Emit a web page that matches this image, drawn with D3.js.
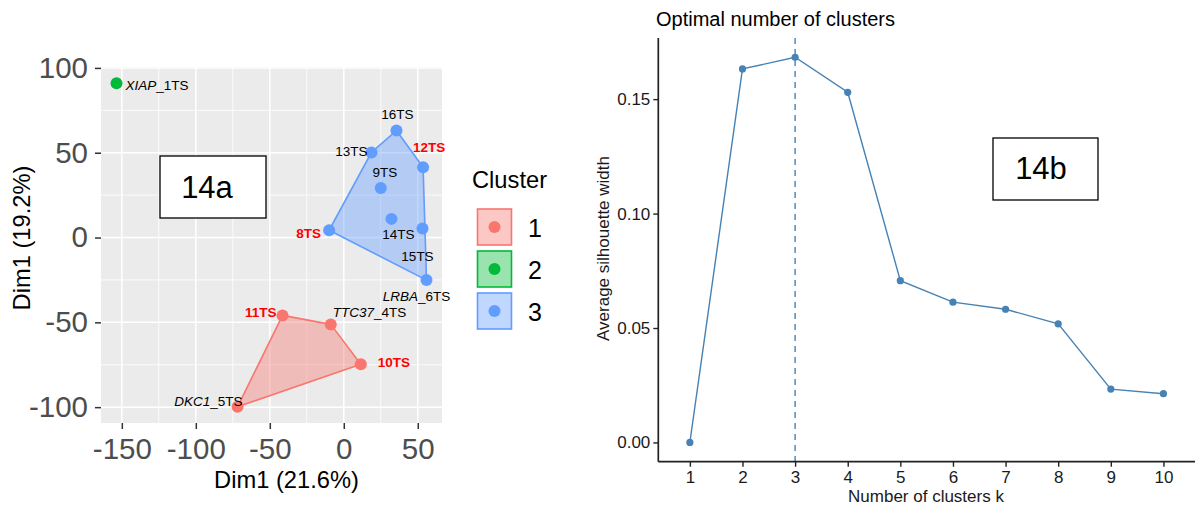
<!DOCTYPE html>
<html>
<head>
<meta charset="utf-8">
<script src="https://cdn.jsdelivr.net/npm/d3@7"></script>
<style>
  html, body { margin: 0; padding: 0; background: #fff; }
  svg { display: block; font-family: "Liberation Sans", Arial, Helvetica, sans-serif; }
</style>
</head>
<body>
<svg id="chart" width="1195" height="506"></svg>
<script>
// ---------------- DATA ----------------
// Panel 14a: PCA cluster plot
const sampleNames = ["XIAP_1TS", "16TS", "13TS", "12TS", "9TS", "14TS", "15TS", "8TS", "LRBA_6TS", "11TS", "TTC37_4TS", "10TS", "DKC1_5TS"];
const dim1Values  = [-153.6, 35.6, 18.7, 53.6, 25.0, 32.2, 53.2, -9.9, 55.9, -41.4, -8.8, 11.5, -71.8];
const dim2Values  = [91.0, 63.1, 50.2, 41.4, 29.2, 11.0, 5.3, 4.3, -25.1, -45.9, -51.2, -74.7, -99.8];
const clusterIds  = [2, 3, 3, 3, 3, 3, 3, 3, 3, 1, 1, 1, 1];
const highlightedSamples = ["12TS", "8TS", "11TS", "10TS"];
const clusterLevels = [1, 2, 3];
const xTicksA = [-150, -100, -50, 0, 50];
const yTicksA = [-100, -50, 0, 50, 100];

// Panel 14b: silhouette
const kValues = [1, 2, 3, 4, 5, 6, 7, 8, 9, 10];
const silhouetteWidth = [0.0, 0.1632, 0.1683, 0.1530, 0.0707, 0.0613, 0.0582, 0.0518, 0.0233, 0.0213];
const optimalK = 3;
const yTicksB = [0.00, 0.05, 0.10, 0.15];

// ---------------- LAYOUT / STYLE ----------------
const clusterColors = { 1: "#F8766D", 2: "#00BA38", 3: "#619CFF" };
// label placement relative to the point (pixels)
const labelLayout = {
  "XIAP_1TS":  { anchor: "start",  dx: 9,   dy: 2 },
  "16TS":      { anchor: "middle", dx: 1,   dy: -16 },
  "13TS":      { anchor: "end",    dx: -4,  dy: -1 },
  "12TS":      { anchor: "middle", dx: 6,   dy: -20 },
  "9TS":       { anchor: "middle", dx: 4,   dy: -16 },
  "14TS":      { anchor: "middle", dx: 7,   dy: 16 },
  "15TS":      { anchor: "middle", dx: -5,  dy: 28 },
  "8TS":       { anchor: "end",    dx: -8,  dy: 3 },
  "LRBA_6TS":  { anchor: "middle", dx: -10, dy: 16 },
  "11TS":      { anchor: "end",    dx: -6,  dy: -3 },
  "TTC37_4TS": { anchor: "start",  dx: 2,   dy: -12 },
  "10TS":      { anchor: "start",  dx: 17,  dy: -2 },
  "DKC1_5TS":  { anchor: "end",    dx: 5,   dy: -6 }
};

const svg = d3.select("#chart");

function expand(ext, f) { const p = (ext[1] - ext[0]) * f; return [ext[0] - p, ext[1] + p]; }

// ================= PANEL A =================
const A = { left: 101, right: 442, top: 67, bottom: 423 };
const xA = d3.scaleLinear().domain(expand(d3.extent(dim1Values), 0.05)).range([A.left, A.right]);
const yA = d3.scaleLinear().domain(expand(d3.extent(dim2Values), 0.05)).range([A.bottom, A.top]);

const gA = svg.append("g");
gA.append("rect").attr("x", A.left).attr("y", A.top).attr("width", A.right - A.left).attr("height", A.bottom - A.top).attr("fill", "#EBEBEB");

// minor grid
const minorX = xTicksA.slice(0, -1).map((d, i) => (d + xTicksA[i + 1]) / 2);
const minorY = yTicksA.slice(0, -1).map((d, i) => (d + yTicksA[i + 1]) / 2);
gA.selectAll(".mnx").data(minorX.filter(v => v >= xA.domain()[0] && v <= xA.domain()[1])).join("line")
  .attr("x1", d => xA(d)).attr("x2", d => xA(d)).attr("y1", A.top).attr("y2", A.bottom)
  .attr("stroke", "#fff").attr("stroke-width", 0.8);
gA.selectAll(".mny").data(minorY.filter(v => v >= yA.domain()[0] && v <= yA.domain()[1])).join("line")
  .attr("y1", d => yA(d)).attr("y2", d => yA(d)).attr("x1", A.left).attr("x2", A.right)
  .attr("stroke", "#fff").attr("stroke-width", 0.8);
// major grid
gA.selectAll(".mjx").data(xTicksA).join("line")
  .attr("x1", d => xA(d)).attr("x2", d => xA(d)).attr("y1", A.top).attr("y2", A.bottom)
  .attr("stroke", "#fff").attr("stroke-width", 1.5);
gA.selectAll(".mjy").data(yTicksA).join("line")
  .attr("y1", d => yA(d)).attr("y2", d => yA(d)).attr("x1", A.left).attr("x2", A.right)
  .attr("stroke", "#fff").attr("stroke-width", 1.5);

// hulls
const pts = sampleNames.map((n, i) => ({ name: n, x: dim1Values[i], y: dim2Values[i], c: clusterIds[i] }));
clusterLevels.forEach(c => {
  const cp = pts.filter(p => p.c === c).map(p => [xA(p.x), yA(p.y)]);
  if (cp.length >= 3) {
    const hull = d3.polygonHull(cp);
    gA.append("path").attr("d", "M" + hull.join("L") + "Z")
      .attr("fill", clusterColors[c]).attr("fill-opacity", 0.4)
      .attr("stroke", clusterColors[c]).attr("stroke-width", 1.6).attr("stroke-linejoin", "round");
  }
});

// points
gA.selectAll(".pt").data(pts).join("circle")
  .attr("cx", d => xA(d.x)).attr("cy", d => yA(d.y)).attr("r", 6)
  .attr("fill", d => clusterColors[d.c]);

// labels
pts.forEach(p => {
  const L = labelLayout[p.name];
  const hl = highlightedSamples.includes(p.name);
  const t = gA.append("text")
    .attr("x", xA(p.x) + L.dx).attr("y", yA(p.y) + L.dy)
    .attr("dominant-baseline", "central")
    .attr("text-anchor", L.anchor)
    .attr("font-size", 13.5)
    .attr("fill", hl ? "#FF0000" : "#000")
    .attr("font-weight", hl ? "bold" : "normal");
  const idx = p.name.indexOf("_");
  if (idx > 0) {
    t.append("tspan").attr("font-style", "italic").text(p.name.slice(0, idx));
    t.append("tspan").text(p.name.slice(idx));
  } else {
    t.text(p.name);
  }
});

// axes
const axA_x = d3.axisBottom(xA).tickValues(xTicksA).tickSize(6).tickPadding(9.5).tickFormat(d3.format("d"));
const axA_y = d3.axisLeft(yA).tickValues(yTicksA).tickSize(6).tickPadding(7).tickFormat(d3.format("d"));
const gax = gA.append("g").attr("transform", `translate(0,${A.bottom})`).call(axA_x);
const gay = gA.append("g").attr("transform", `translate(${A.left},0)`).call(axA_y);
[gax, gay].forEach(g => {
  g.select(".domain").remove();
  g.selectAll(".tick line").attr("stroke", "#333").attr("stroke-width", 1.5);
  g.selectAll(".tick text").attr("font-size", 29.5).attr("fill", "#4D4D4D")
    .attr("font-family", "'Liberation Sans', Arial, sans-serif")
    .text(function () { return this.textContent.replace("−", "-"); });
});

gA.append("text").attr("x", (A.left + A.right) / 2 + 15).attr("y", 480).attr("dominant-baseline", "central")
  .attr("text-anchor", "middle").attr("font-size", 23.7).attr("fill", "#000").text("Dim1 (21.6%)");
gA.append("text").attr("transform", `translate(22,${238}) rotate(-90)`).attr("dominant-baseline", "central")
  .attr("text-anchor", "middle").attr("font-size", 23.7).attr("fill", "#000").text("Dim1 (19.2%)");

// legend
const lg = gA.append("g");
lg.append("text").attr("x", 472).attr("y", 179.5).attr("dominant-baseline", "central")
  .attr("font-size", 23.7).attr("fill", "#000").text("Cluster");
clusterLevels.forEach((c, i) => {
  const y0 = 209 + i * 42;
  lg.append("rect").attr("x", 477.5).attr("y", y0).attr("width", 34).attr("height", 36)
    .attr("fill", clusterColors[c]).attr("fill-opacity", 0.4)
    .attr("stroke", clusterColors[c]).attr("stroke-width", 1.6);
  lg.append("circle").attr("cx", 494.5).attr("cy", y0 + 18).attr("r", 6).attr("fill", clusterColors[c]);
  lg.append("text").attr("x", 528).attr("y", y0 + 19).attr("dominant-baseline", "central")
    .attr("font-size", 25).attr("fill", "#000").text(c);
});

// 14a box
gA.append("rect").attr("x", 160).attr("y", 156).attr("width", 106).attr("height", 62)
  .attr("fill", "#fff").attr("stroke", "#000").attr("stroke-width", 1.3);
gA.append("text").attr("x", 207).attr("y", 187).attr("dominant-baseline", "central").attr("text-anchor", "middle")
  .attr("font-size", 31).attr("fill", "#000").text("14a");

// ================= PANEL B =================
const B = { left: 658.3, right: 1195, top: 38, bottom: 461.7 };
const xB = d3.scalePoint().domain(kValues).range([B.left, B.right]).padding(0.6);
const yB = d3.scaleLinear().domain(expand([0, d3.max(silhouetteWidth)], 0.05)).range([B.bottom, B.top]);
const gB = svg.append("g");

gB.append("text").attr("x", 656).attr("y", 18.5).attr("dominant-baseline", "central")
  .attr("font-size", 20).attr("fill", "#000").text("Optimal number of clusters");

// dashed optimal line
gB.append("line").attr("x1", xB(optimalK)).attr("x2", xB(optimalK)).attr("y1", B.top).attr("y2", B.bottom)
  .attr("stroke", "#4682B4").attr("stroke-width", 1.4).attr("stroke-dasharray", "6,5");

const line = d3.line().x((d, i) => xB(kValues[i])).y(d => yB(d));
gB.append("path").datum(silhouetteWidth).attr("d", line)
  .attr("fill", "none").attr("stroke", "#4682B4").attr("stroke-width", 1.4);
gB.selectAll(".sp").data(silhouetteWidth).join("circle")
  .attr("cx", (d, i) => xB(kValues[i])).attr("cy", d => yB(d)).attr("r", 3.6).attr("fill", "#4682B4");

const axB_x = d3.axisBottom(xB).tickSize(5).tickPadding(4);
const axB_y = d3.axisLeft(yB).tickValues(yTicksB).tickSize(5).tickPadding(3).tickFormat(d3.format(".2f"));
const gbx = gB.append("g").attr("transform", `translate(0,${B.bottom})`).call(axB_x);
const gby = gB.append("g").attr("transform", `translate(${B.left},0)`).call(axB_y);
[gbx, gby].forEach(g => {
  g.select(".domain").attr("stroke", "#222").attr("stroke-width", 1.7);
  g.selectAll(".tick line").attr("stroke", "#222").attr("stroke-width", 1.4);
  g.selectAll(".tick text").attr("font-size", 17).attr("fill", "#1a1a1a")
    .attr("font-family", "'Liberation Sans', Arial, sans-serif");
});
gbx.select(".domain").attr("d", `M${B.left},0H${B.right}`);
gby.select(".domain").attr("d", `M0,${B.top}V${B.bottom}`);

gB.append("text").attr("x", 926).attr("y", 496.5).attr("dominant-baseline", "central").attr("text-anchor", "middle")
  .attr("font-size", 17).attr("fill", "#1a1a1a").text("Number of clusters k");
gB.append("text").attr("transform", `translate(603,248.5) rotate(-90)`).attr("dominant-baseline", "central")
  .attr("text-anchor", "middle").attr("font-size", 17).attr("fill", "#1a1a1a").text("Average silhouette width");

// 14b box
gB.append("rect").attr("x", 993).attr("y", 138).attr("width", 105).attr("height", 62)
  .attr("fill", "#fff").attr("stroke", "#000").attr("stroke-width", 1.3);
gB.append("text").attr("x", 1041).attr("y", 168).attr("dominant-baseline", "central").attr("text-anchor", "middle")
  .attr("font-size", 31).attr("fill", "#000").text("14b");
</script>
</body>
</html>
